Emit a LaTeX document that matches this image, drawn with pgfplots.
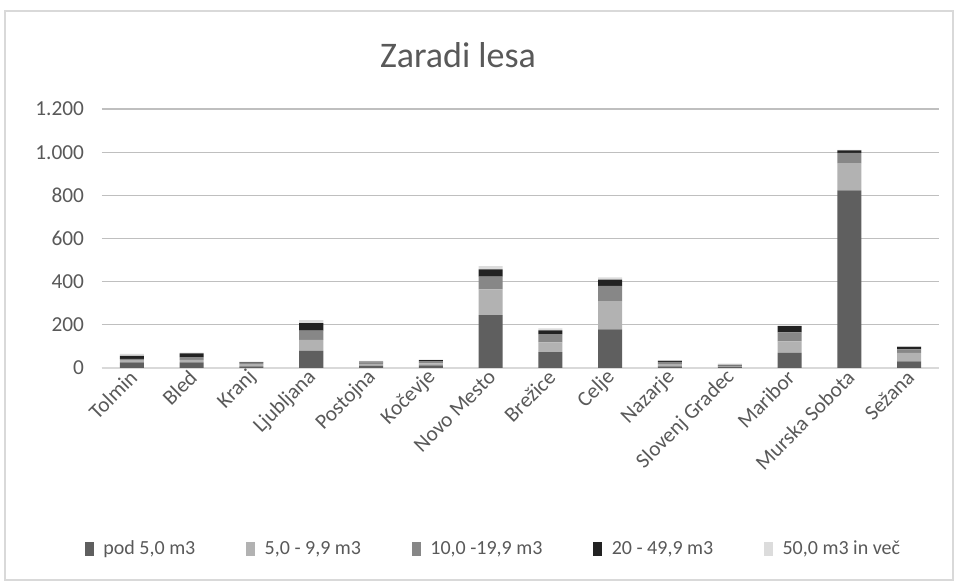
\documentclass[border=0pt]{standalone}
\usepackage{fontspec}
\setmainfont{Carlito}
\usepackage{pgfplots}
\pgfplotsset{compat=1.18}
\definecolor{cDark}{HTML}{5F5F5F}
\definecolor{cLight}{HTML}{B2B2B2}
\definecolor{cMed}{HTML}{878787}
\definecolor{cBlack}{HTML}{222222}
\definecolor{cLightest}{HTML}{DCDCDC}
\definecolor{txt}{HTML}{595959}
\definecolor{grid}{HTML}{D9D9D9}
\begin{document}
\begin{tikzpicture}
\useasboundingbox (0pt,0pt) rectangle (718.5pt,436.5pt);
\fill[white] (0pt,0pt) rectangle (718.5pt,436.5pt);
\draw[grid,line width=0.9pt] (3.75pt,1.5pt) rectangle (714.75pt,428.25pt);
\node[txt,font=\fontsize{27}{32}\selectfont] at (343.5pt,395.25pt) {Zaradi lesa};
\begin{axis}[
  at={(76.5pt,160.5pt)}, anchor=south west,
  scale only axis, width=627.75pt, height=194.25pt,
  ybar stacked, bar width=18pt,
  xmin=-0.5, xmax=13.5, ymin=0, ymax=1200,
  ytick={0,200,...,1200},
  xtick={0,...,13},
  xticklabels={Tolmin,Bled,Kranj,Ljubljana,Postojna,Kočevje,Novo Mesto,Brežice,Celje,Nazarje,Slovenj Gradec,Maribor,Murska Sobota,Sežana},
  /pgf/number format/.cd, 1000 sep={.}, assume math mode=true, /pgfplots/.cd,
  xmajorgrids=false, ymajorgrids=true, grid style={grid,line width=0.9pt},
  axis x line=bottom, axis y line=left,
  x axis line style={grid,line width=0.9pt,-},
  y axis line style={draw=none},
  major tick length=0pt,
  xtick style={draw=none}, ytick style={draw=none},
  tick label style={txt,font=\fontsize{16}{19}\selectfont},
  xticklabel style={rotate=45,anchor=east,xshift=1pt,yshift=-4pt},
  yticklabel style={xshift=-10pt},
  legend columns=5,
  legend style={draw=none,fill=none,at={(0.468,-0.699)},anchor=center,
    font=\fontsize{15}{18}\selectfont,text=txt,
    /tikz/every even column/.append style={column sep=36pt}},
  legend image code/.code={\fill[#1,draw=none] (0pt,-5pt) rectangle (7pt,5pt); \path (12pt,0pt);},
  legend cell align=left,
  clip=false,
]
\addplot[fill=cDark,draw=none] coordinates {(0,26)(1,26)(2,8)(3,79)(4,10)(5,12)(6,245)(7,73)(8,179)(9,8)(10,6)(11,70)(12,823)(13,31)};
\addplot[fill=cLight,draw=none] coordinates {(0,8)(1,12)(2,8)(3,51)(4,8)(5,10)(6,119)(7,46)(8,131)(9,8)(10,3)(11,53)(12,126)(13,39)};
\addplot[fill=cMed,draw=none] coordinates {(0,8)(1,12)(2,8)(3,43)(4,8)(5,10)(6,59)(7,38)(8,71)(9,12)(10,2)(11,42)(12,48)(13,16)};
\addplot[fill=cBlack,draw=none] coordinates {(0,14)(1,18)(2,2)(3,35)(4,4)(5,4)(6,34)(7,17)(8,29)(9,5)(10,4)(11,29)(12,11)(13,12)};
\addplot[fill=cLightest,draw=none] coordinates {(0,9)(1,3)(2,3)(3,14)(4,3)(5,3)(6,15)(7,10)(8,10)(9,3)(10,5)(11,3)(12,3)(13,3)};
\legend{{pod 5,0 m3},{5,0 - 9,9 m3},{10,0 -19,9 m3},{20 - 49,9 m3},{50,0 m3 in več}}
\end{axis}
\end{tikzpicture}
\end{document}
